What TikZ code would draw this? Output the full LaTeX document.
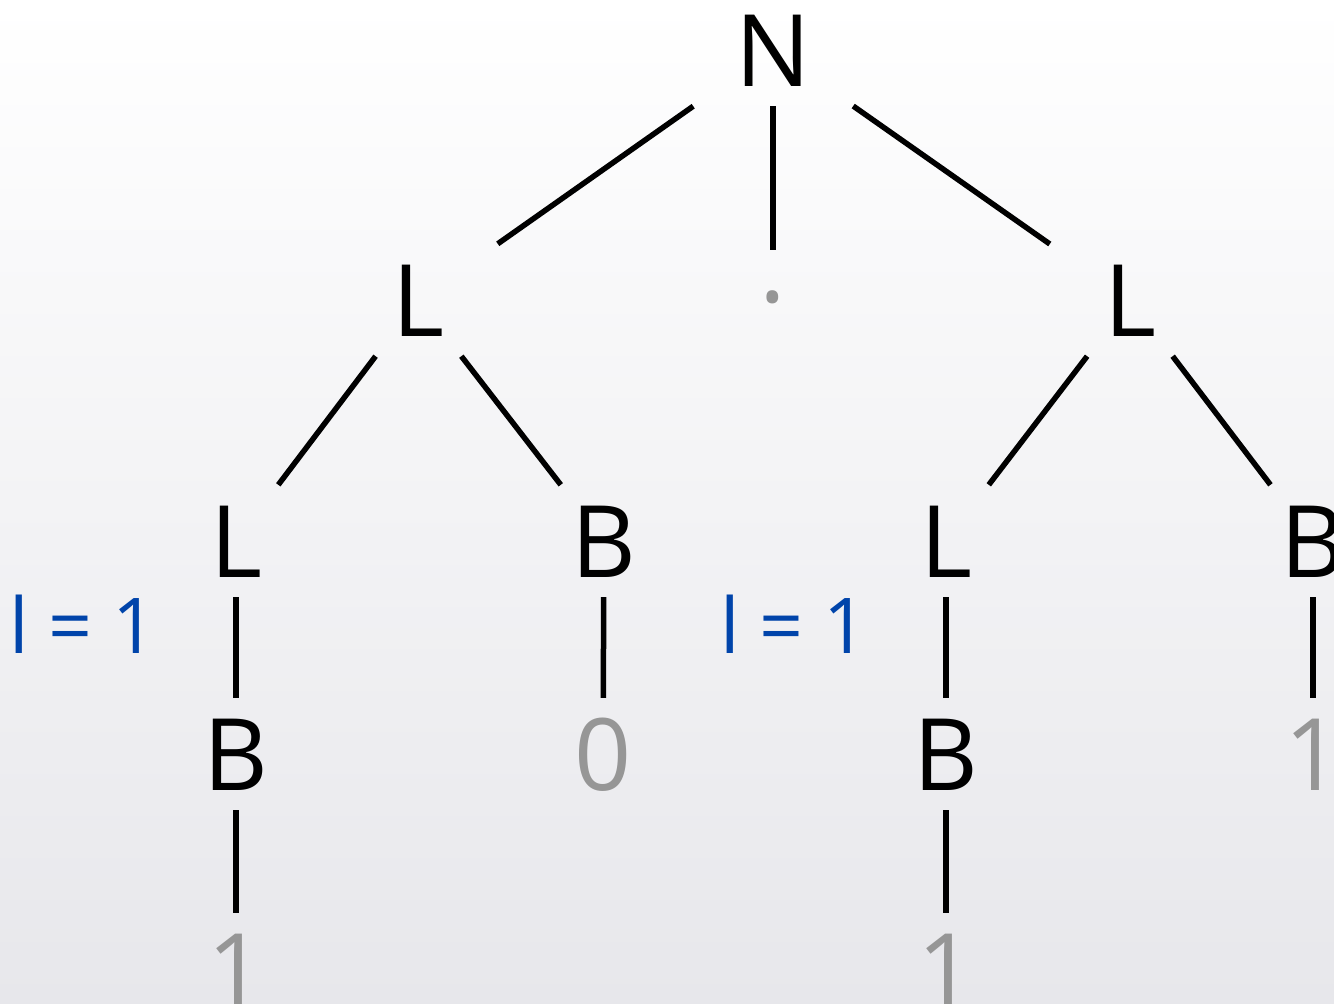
\documentclass[tikz,border=0pt]{standalone}
\usepackage{fontspec}
\setmainfont{Open Sans}
\usepackage{tikz}
\usepackage{xcolor}
\definecolor{attrblue}{RGB}{0,68,170}
\definecolor{leafgray}{RGB}{150,150,150}
\definecolor{bgbottom}{RGB}{231,231,235}
\tikzset{
    tree-node/.style = {font=\fontsize{100}{100}\selectfont, text height=72pt, text depth=0pt, minimum width=160pt, inner ysep=20pt},
    tree-leaf/.style = {tree-node, text=leafgray},
    tree-edge/.style = {line width=5.5pt},
    attr-label/.style = {font=\fontsize{77}{77}\selectfont, text=attrblue},
}
\begin{document}
\begin{tikzpicture}[x=1pt, y=-1pt]
\clip (0,0) rectangle (1334,1004);
\shade[top color=white, bottom color=bgbottom] (0,0) rectangle (1334,1004);

\node[tree-node] (N) at (773,50) {N};
\node[tree-node] (L-left) at (418,300) {L};
\node[tree-leaf, text height=12pt, inner ysep=40pt] (dot) at (773,296) {.};
\node[tree-node] (L-right) at (1130,300) {L};

\node[tree-node] (L-left-L) at (236,541) {L};
\node[tree-node] (L-left-B) at (604,541) {B};
\node[tree-node] (L-right-L) at (946,541) {L};
\node[tree-node] (L-right-B) at (1313,541) {B};

\node[tree-node] (B-left) at (236,754) {B};
\node[tree-leaf] (zero) at (603,754) {0};
\node[tree-node] (B-right) at (946,754) {B};
\node[tree-leaf] (one-right) at (1313,754) {1};

\node[tree-leaf] (one-left) at (236,969) {1};
\node[tree-leaf] (one-mid) at (946,969) {1};

\node[attr-label] (len-left) at (83,624) {l = 1};
\node[attr-label] (len-right) at (794,624) {l = 1};

\draw[tree-edge] (N) -- (L-left);
\draw[tree-edge] (N) -- (dot);
\draw[tree-edge] (N) -- (L-right);
\draw[tree-edge] (L-left) -- (L-left-L);
\draw[tree-edge] (L-left) -- (L-left-B);
\draw[tree-edge] (L-right) -- (L-right-L);
\draw[tree-edge] (L-right) -- (L-right-B);
\draw[tree-edge] (L-left-L) -- (B-left);
\draw[tree-edge] (L-left-B) -- (zero);
\draw[tree-edge] (L-right-L) -- (B-right);
\draw[tree-edge] (L-right-B) -- (one-right);
\draw[tree-edge] (B-left) -- (one-left);
\draw[tree-edge] (B-right) -- (one-mid);
\end{tikzpicture}
\end{document}
